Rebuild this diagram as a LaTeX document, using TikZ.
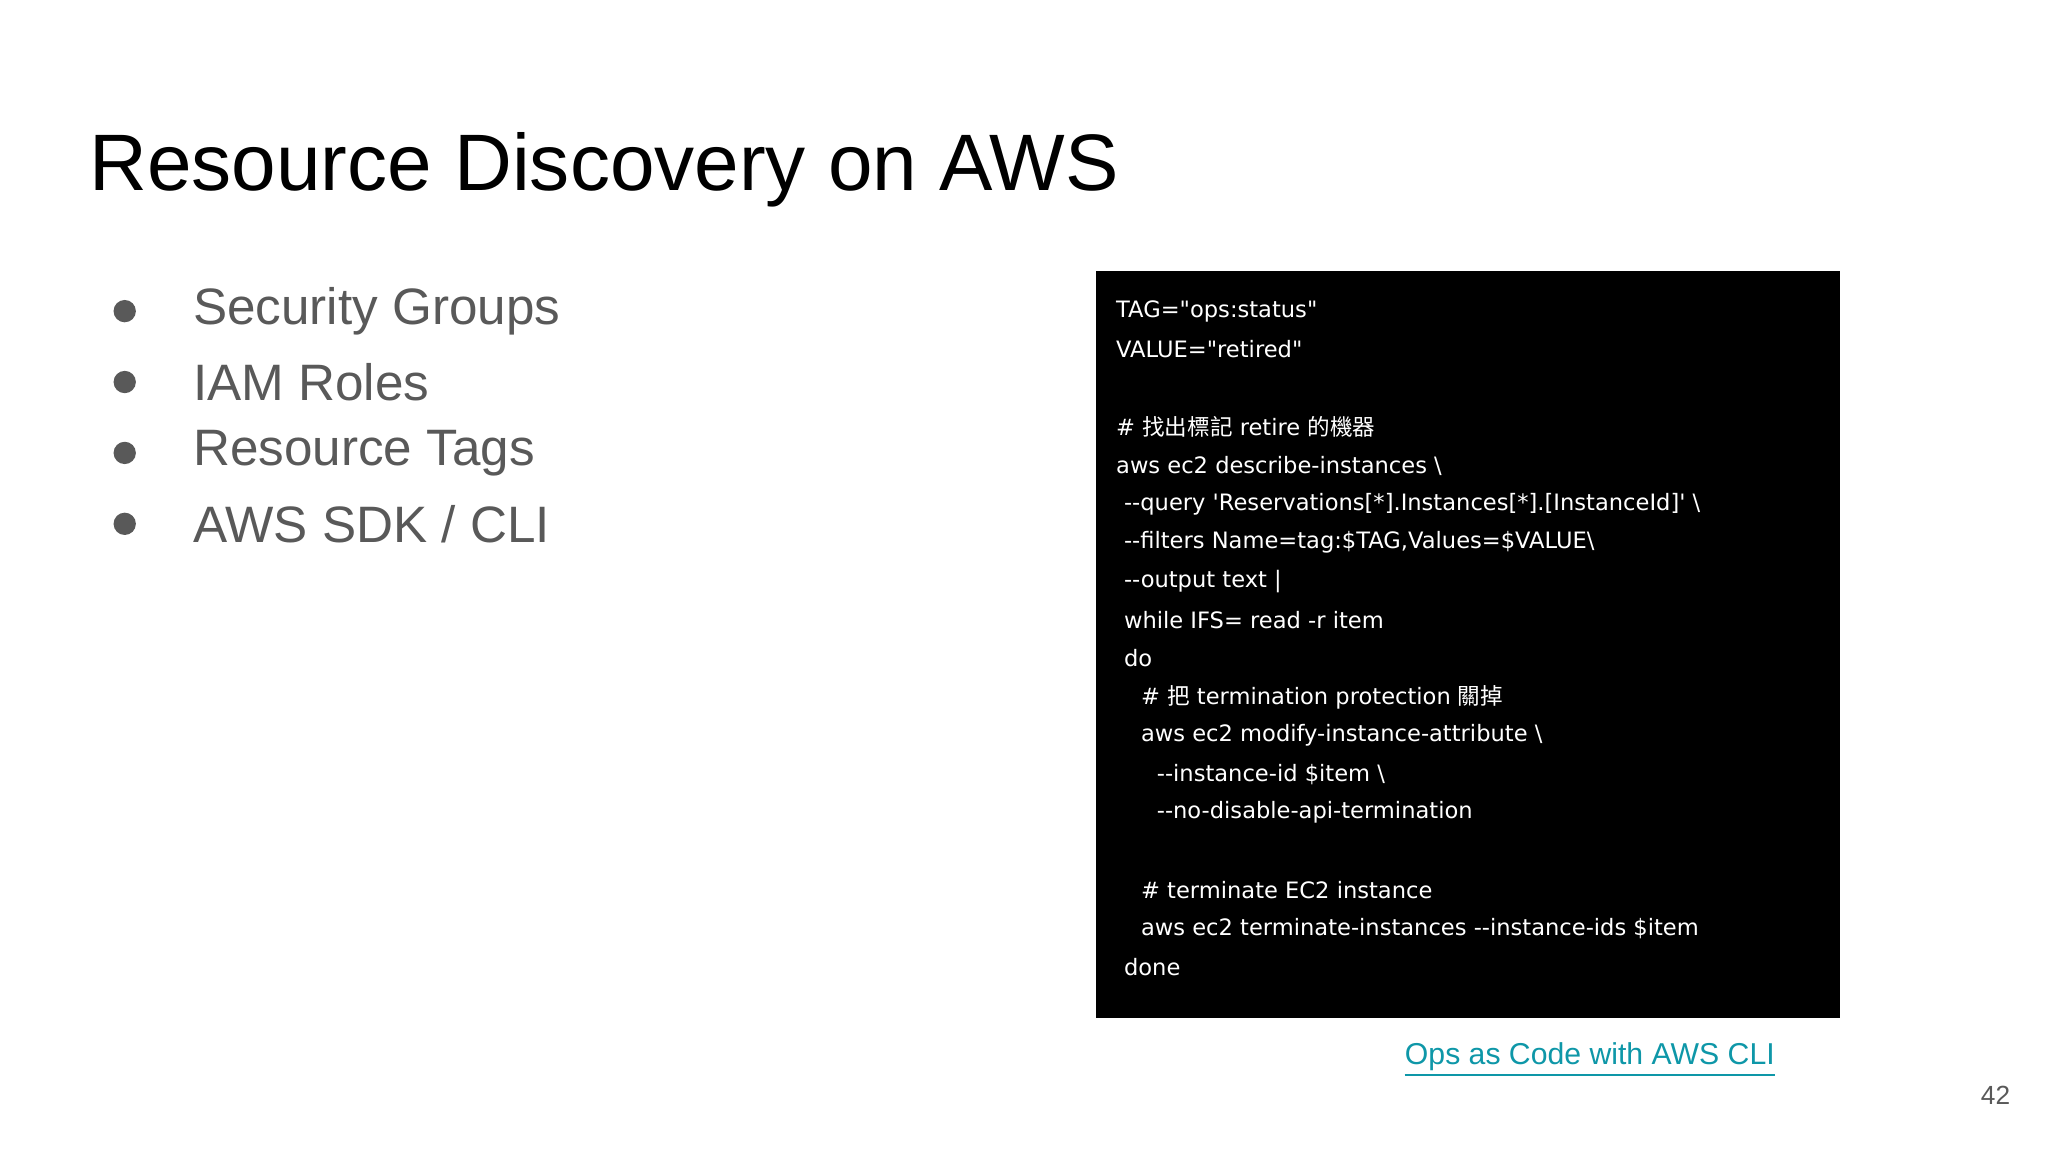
\documentclass[tikz,border=0pt]{standalone}
\usepackage{fontspec}
\setmainfont{Liberation Sans}
\newfontfamily\codefont{DejaVu Sans}
\newfontfamily\cjk{Noto Sans CJK TC}
\definecolor{bul}{HTML}{595959}
\definecolor{lnk}{HTML}{0E97A8}
\tikzset{
  bullet/.style={anchor=west,text=bul,font=\fontsize{39}{44}\selectfont,inner sep=0pt},
  dot/.style={circle,fill=bul,minimum size=17pt,inner sep=0pt},
  code/.style={anchor=west,text=white,font=\codefont\fontsize{17.2}{20}\selectfont,inner sep=0pt},
}
\begin{document}
\begin{tikzpicture}[x=1pt,y=-1pt]
\useasboundingbox[fill=white] (0,0) rectangle (1560,877.5);
\node[anchor=west,inner sep=0pt,font=\fontsize{61}{70}\selectfont] (title) at (68,129) {Resource Discovery on AWS};
\foreach \t [count=\i] in {Security Groups,IAM Roles,Resource Tags,AWS SDK / CLI}{
  \node[dot] (d\i) at (95,237+54*\i-54) {};
  \node[bullet] (b\i) at (147,237+54*\i-54) {\t};
}
\node[fill=black,minimum width=566pt,minimum height=569pt,inner sep=0pt,anchor=north west] (box) at (835,206) {};
\newcommand{\cl}[3]{\node[code] at (#1,#2) {#3};}
\cl{850}{237}{TAG="ops:status"}
\cl{850}{266}{VALUE="retired"}
\cl{850}{325}{\# {\cjk 找出標記} retire {\cjk 的機器}}
\cl{850}{355}{aws ec2 describe-instances \textbackslash}
\cl{856}{384}{--query 'Reservations[*].Instances[*].[InstanceId]' \textbackslash}
\cl{856}{413}{--filters Name=tag:\$TAG,Values=\$VALUE\textbackslash}
\cl{856}{443}{--output text |}
\cl{856}{472}{while IFS= read -r item}
\cl{856}{501}{do}
\cl{869}{531}{\# {\cjk 把} termination protection {\cjk 關掉}}
\cl{869}{560}{aws ec2 modify-instance-attribute \textbackslash}
\cl{881}{590}{--instance-id \$item \textbackslash}
\cl{881}{619}{--no-disable-api-termination}
\cl{869}{678}{\# terminate EC2 instance}
\cl{869}{707}{aws ec2 terminate-instances --instance-ids \$item}
\cl{856}{737}{done}
\node[text=lnk,inner sep=0pt,font=\fontsize{23}{26}\selectfont] (link) at (1211,805) {Ops as Code with AWS CLI};
\draw[lnk,line width=1.8pt] ([yshift=-3pt]link.south west) -- ([yshift=-3pt]link.south east);
\node[text=bul,inner sep=0pt,font=\fontsize{20}{24}\selectfont] (pg) at (1520,834) {42};
\end{tikzpicture}
\end{document}
